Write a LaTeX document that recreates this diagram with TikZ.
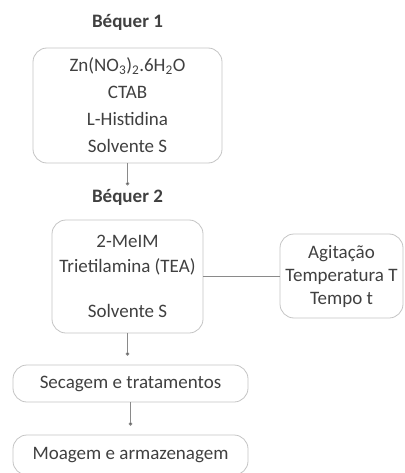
\documentclass[tikz,border=0pt]{standalone}
\usepackage{fontspec}
\setmainfont{Carlito}
\usetikzlibrary{arrows.meta}

\definecolor{txtgray}{HTML}{404040}
\definecolor{boxgray}{HTML}{C4C4C4}
\definecolor{linkgray}{HTML}{8A8A8A}

\begin{document}
\begin{tikzpicture}[x=1pt, y=-1pt,
    every node/.style={text=txtgray, font=\fontsize{19}{25}\selectfont},
    title/.style={font=\fontsize{19}{25}\selectfont\bfseries},
    box/.style={draw=boxgray, line width=0.8pt, rounded corners=14pt,
        align=center, inner sep=0pt},
    link/.style={draw=linkgray, line width=0.8pt, -{Circle[length=3.5pt, fill=txtgray]}}]

    % Page frame of the picture
    \useasboundingbox (0,0) rectangle (404,473);
    \clip (0,0) rectangle (404,473);

    % Béquer 1 and its contents
    \node[title] (tit1) at (127.5,22) {Béquer 1};
    \node[box, minimum width=189pt, minimum height=115pt,
        font=\fontsize{19}{27}\selectfont] (bq1) at (127.5,105.5)
        {Zn(NO\textsubscript{3})\textsubscript{2}.6H\textsubscript{2}O\\CTAB\\L-Histidina\\Solvente S};

    % Béquer 2 and its contents
    \node[title] (tit2) at (127.5,197) {Béquer 2};
    \node[box, minimum width=151pt, minimum height=113pt] (bq2) at (127.5,276.5)
        {2-MeIM\\Trietilamina (TEA)\\[20pt]Solvente S};

    % Conditions box on the right
    \node[box, minimum width=123pt, minimum height=84pt,
        font=\fontsize{19}{23}\selectfont] (cond) at (341.5,276)
        {Agitação\\Temperatura T\\Tempo t};

    % Final steps
    \node[box, minimum width=235pt, minimum height=37pt] (sec) at (130.5,383.5)
        {Secagem e tratamentos};
    \node[box, minimum width=235pt, minimum height=40pt] (moa) at (130.5,455)
        {Moagem e armazenagem};

    % Connectors
    \draw[link] (bq1.south) -- (bq1.south |- tit2.north);
    \draw[link, shorten >=9pt] (bq2.south) -- (bq2.south |- sec.north);
    \draw[link, shorten >=9pt] (sec.south) -- (moa.north);
    \draw[draw=linkgray, line width=0.8pt] (bq2.east) -- (bq2.east -| cond.west);

\end{tikzpicture}
\end{document}
